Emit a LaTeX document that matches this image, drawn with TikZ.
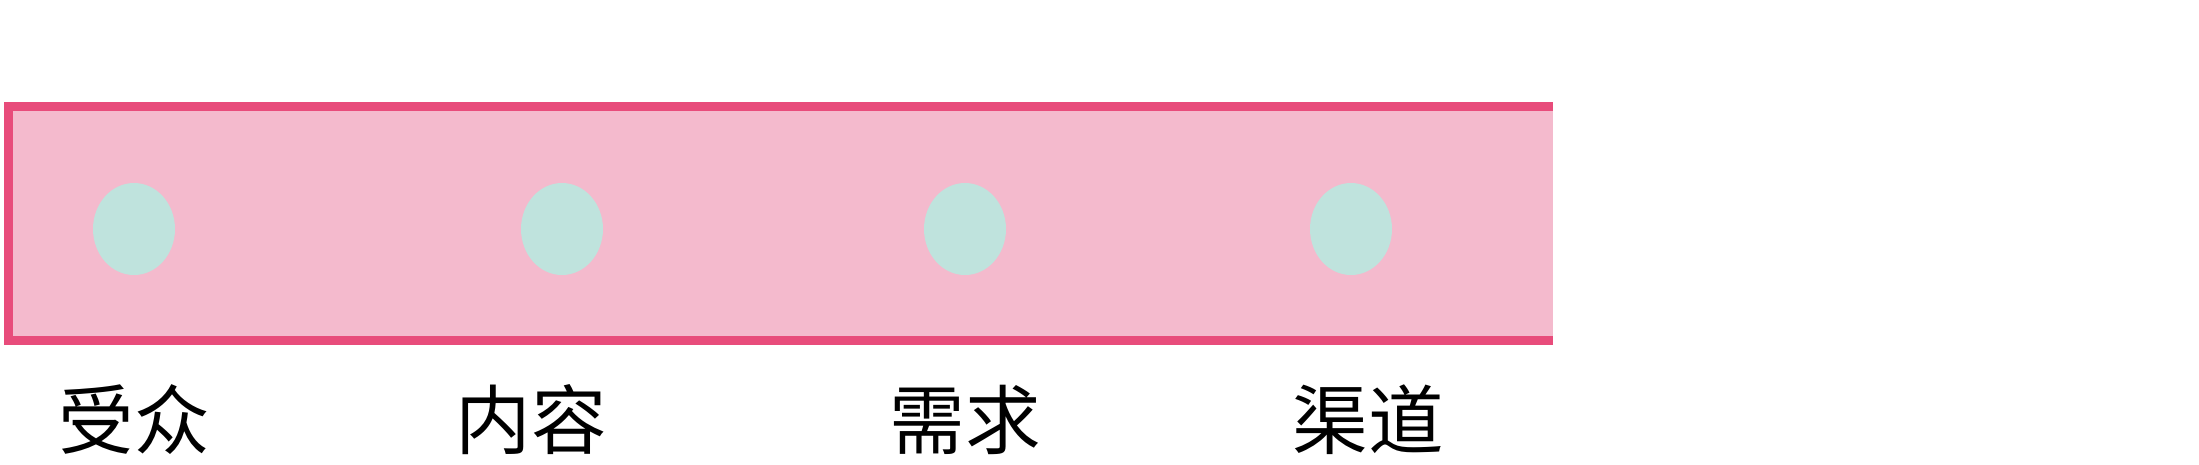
\documentclass[tikz,border=0pt]{standalone}
\usepackage{fontspec}
\newfontfamily\cjk{Noto Sans CJK SC}
\usepackage{tikz}
\usetikzlibrary{shapes}
\usetikzlibrary{positioning}
\definecolor{bandpink}{HTML}{F4BACD}
\definecolor{bandred}{HTML}{E84C7B}
\definecolor{dotgreen}{HTML}{BFE3DD}
\tikzset{every dot/.style={ellipse,fill=dotgreen,minimum width=0.82cm,minimum height=0.92cm,inner sep=0pt},
label text/.style={font=\cjk\fontsize{21.5pt}{24pt}\selectfont,inner sep=0pt}
}

\begin{document}
\begin{tikzpicture}[node distance=1.91cm, on grid]
    \useasboundingbox (0,0) rectangle (21.99,-4.64);
    \fill[bandpink] (0.09,-1.06) rectangle (15.53,-3.40);
    \draw[bandred,line width=0.09cm] (15.53,-1.06) -- (0.09,-1.06) -- (0.09,-3.40) -- (15.53,-3.40);

    \node[every dot] (d_1) at (1.34,-2.29)  {};
    \node[every dot] (d_2) at (5.62,-2.29)  {};
    \node[every dot] (d_3) at (9.65,-2.29)  {};
    \node[every dot] (d_4) at (13.51,-2.29) {};

    \node[label text] (l_1) [below=of d_1]              {受众};
    \node[label text] (l_2) [below=of d_2,xshift=-0.31cm] {内容};
    \node[label text] (l_3) [below=of d_3]              {需求};
    \node[label text] (l_4) [below=of d_4,xshift=0.17cm]  {渠道};
  \end{tikzpicture}
\end{document}
